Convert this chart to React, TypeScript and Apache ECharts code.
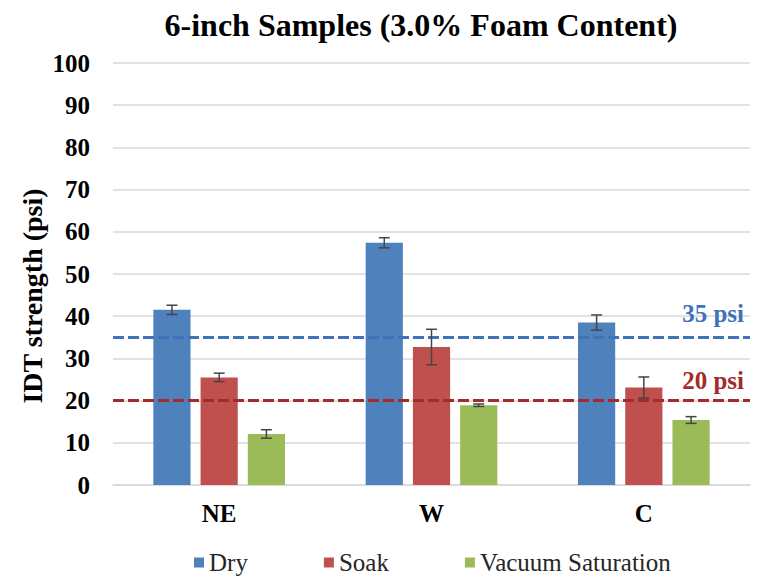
import React, { useEffect, useRef } from "react";
import * as echarts from "echarts";

const categories = ["NE", "W", "C"];
const seriesNames = ["Dry", "Soak", "Vacuum Saturation"];
const dryValues = [41.5, 57.4, 38.5];
const soakValues = [25.5, 32.7, 23.1];
const vacValues = [12.1, 18.9, 15.4];
const dryErr = [1.1, 1.2, 1.8];
const soakErr = [1.0, 4.2, 2.5];
const vacErr = [1.0, 0.3, 0.8];
const thresholds = [35, 20];
const thresholdLabels = ["35 psi", "20 psi"];
const yTicks = { min: 0, max: 100, interval: 10 };

const colors = ["#4f81bd", "#c0504d", "#9bbb59"];
const lineColors = ["#3f72b8", "#a52a2a"];
const FONT = "Liberation Serif";
const CAT_GAP = 0.38;
const BAR_GAP = 0.27;

export default function App() {
  const ref = useRef<HTMLDivElement>(null);
  useEffect(() => {
    if (!ref.current) return;
    const chart = echarts.init(ref.current, null, { renderer: "svg" });
    const values = [dryValues, soakValues, vacValues];
    const errs = [dryErr, soakErr, vacErr];
    const n = values.length;

    const barSeries = values.map((vals, i) => ({
      name: seriesNames[i],
      type: "bar",
      data: vals,
      itemStyle: { color: colors[i] },
      barGap: `${BAR_GAP * 100}%`,
      barCategoryGap: `${CAT_GAP * 100}%`,
      z: 2,
      markLine:
        i < 2
          ? {
              silent: true,
              symbol: ["none", "none"],
              data: [
                {
                  yAxis: thresholds[i],
                  lineStyle: { color: lineColors[i], type: [11, 4], width: 3 },
                  label: {
                    show: true,
                    position: "insideEndTop",
                    formatter: thresholdLabels[i],
                    color: lineColors[i],
                    fontFamily: FONT,
                    fontWeight: "bold",
                    fontSize: 25,
                    distance: [6, i === 0 ? 11 : 8],
                  },
                },
              ],
            }
          : undefined,
    }));

    const errData: number[][] = [];
    values.forEach((vals, si) =>
      vals.forEach((v, ci) => errData.push([ci, v - errs[si][ci], v + errs[si][ci], si]))
    );

    const errSeries = {
      type: "custom",
      name: "err",
      z: 5,
      silent: true,
      data: errData,
      encode: { x: 0, y: [1, 2] },
      renderItem: (params: any, api: any) => {
        const ci = api.value(0);
        const lo = api.value(1);
        const hi = api.value(2);
        const si = api.value(3);
        const band = api.size([1, 0])[0];
        const w = (band * (1 - CAT_GAP)) / (n + (n - 1) * BAR_GAP);
        const start = -(band * (1 - CAT_GAP)) / 2;
        const off = start + w / 2 + si * w * (1 + BAR_GAP);
        const pLo = api.coord([ci, lo]);
        const pHi = api.coord([ci, hi]);
        const x = pLo[0] + off;
        const cap = 5.5;
        const style = { stroke: "#454545", lineWidth: 1.5 };
        return {
          type: "group",
          children: [
            { type: "line", shape: { x1: x, y1: pLo[1], x2: x, y2: pHi[1] }, style },
            { type: "line", shape: { x1: x - cap, y1: pLo[1], x2: x + cap, y2: pLo[1] }, style },
            { type: "line", shape: { x1: x - cap, y1: pHi[1], x2: x + cap, y2: pHi[1] }, style },
          ],
        };
      },
    };

    chart.setOption({
      animation: false,
      backgroundColor: "#ffffff",
      title: {
        text: "6-inch Samples (3.0% Foam Content)",
        left: 416,
        textAlign: "center",
        top: 4,
        textStyle: { fontFamily: FONT, fontWeight: "bold", fontSize: 32, color: "#000" },
      },
      legend: {
        data: seriesNames,
        top: 545,
        left: 189,
        itemWidth: 10,
        itemHeight: 10,
        itemGap: 76,
        icon: "rect",
        textStyle: { fontFamily: FONT, fontSize: 25, color: "#262626" },
      },
      graphic: [
        {
          type: "text",
          x: 32,
          y: 296,
          rotation: Math.PI / 2,
          style: {
            text: "IDT strength (psi)",
            fontFamily: FONT,
            fontWeight: "bold",
            fontSize: 28,
            fill: "#000",
            textAlign: "center",
            textVerticalAlign: "middle",
          },
        },
      ],
      grid: { left: 113, right: 7, top: 63, bottom: 99 },
      xAxis: {
        type: "category",
        data: categories,
        axisLine: { lineStyle: { color: "#d9d9d9", width: 1.5 } },
        axisTick: { show: false },
        axisLabel: {
          fontFamily: FONT,
          fontWeight: "bold",
          fontSize: 25,
          color: "#000",
          margin: 16,
        },
      },
      yAxis: {
        type: "value",
        min: yTicks.min,
        max: yTicks.max,
        interval: yTicks.interval,
        axisLine: { show: false },
        axisTick: { show: false },
        splitLine: { lineStyle: { color: "#d9d9d9", width: 1.5 } },
        axisLabel: {
          fontFamily: FONT,
          fontWeight: "bold",
          fontSize: 25,
          color: "#000",
          margin: 23,
        },
      },
      series: [...barSeries, errSeries],
    });
    return () => chart.dispose();
  }, []);
  return <div ref={ref} style={{ width: 757, height: 584, position: "absolute", left: 0, top: 0 }} />;
}
